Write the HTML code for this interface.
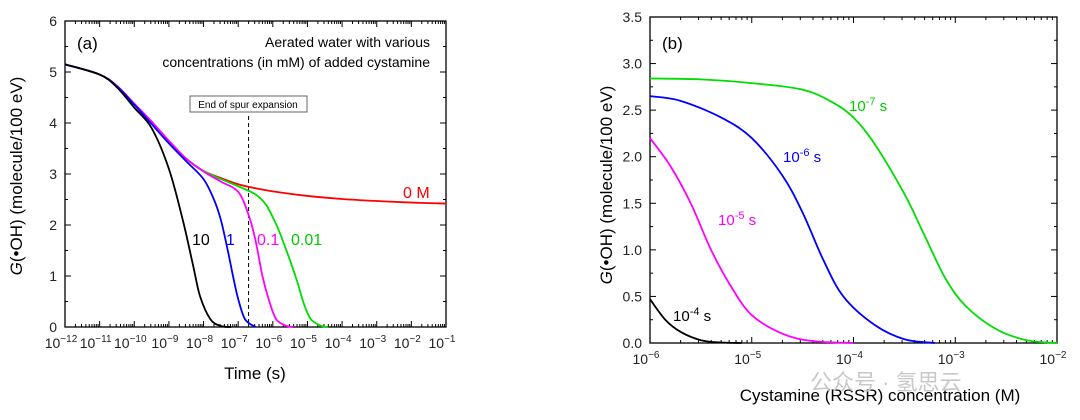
<!DOCTYPE html>
<html><head><meta charset="utf-8"><style>
body{margin:0;background:#fff;}
svg text{font-family:"Liberation Sans","Noto Sans CJK SC",sans-serif;}
</style></head><body>
<svg id="s" width="1080" height="415" xmlns="http://www.w3.org/2000/svg">
<g id="A"></g>
<g id="B"></g>
<text x="810" y="390" font-size="22" fill="#c8c8c8">公众号 · 氢思云</text>
</svg>
<script>
// Chart A data (log10 time, G)
const aRedX=[-12,-11,-10.5,-10,-9.5,-9,-8.5,-8,-7.5,-7,-6.5,-6,-5,-4,-3,-2,-1];
const aRedY=[5.15,4.95,4.72,4.37,4.02,3.65,3.3,3.06,2.92,2.8,2.72,2.66,2.57,2.51,2.47,2.44,2.42];
const aBlackX=[-12,-11,-10.5,-10,-9.5,-9,-8.6,-8.3,-8.1,-7.8,-7.5,-7.2];
const aBlackY=[5.15,4.95,4.7,4.3,3.9,3.1,2.1,1.2,0.6,0.15,0.02,0];
const aBlueX=[-12,-11,-10.5,-10,-9.5,-9,-8.5,-8,-7.7,-7.5,-7.3,-7.15,-7,-6.8,-6.5];
const aBlueY=[5.15,4.95,4.72,4.36,3.98,3.6,3.25,2.9,2.5,2.1,1.5,1.0,0.55,0.15,0];
const aMagX=[-12,-11,-10.5,-10,-9.5,-9,-8.5,-8,-7.5,-7,-6.7,-6.5,-6.3,-6.1,-5.9,-5.6,-5.4];
const aMagY=[5.15,4.95,4.73,4.38,4.03,3.65,3.3,3.05,2.85,2.65,2.2,1.7,1.0,0.5,0.15,0.02,0];
const aGrnX=[-12,-11,-10.5,-10,-9.5,-9,-8.5,-8,-7.5,-7,-6.5,-6.2,-6,-5.8,-5.5,-5.3,-5.1,-4.9,-4.6,-4.4];
const aGrnY=[5.15,4.95,4.72,4.37,4.02,3.65,3.3,3.06,2.9,2.76,2.6,2.4,2.15,1.85,1.3,0.9,0.45,0.15,0.02,0];
const aXTicks=[-12,-11,-10,-9,-8,-7,-6,-5,-4,-3,-2,-1];
const aYTicks=[0,1,2,3,4,5,6];
// Chart B data (log10 concentration, G)
const bGrnX=[-6,-5.5,-5,-4.5,-4.2,-4,-3.8,-3.5,-3.3,-3.1,-2.9,-2.6,-2.3,-2];
const bGrnY=[2.84,2.83,2.79,2.72,2.58,2.42,2.15,1.6,1.15,0.7,0.4,0.15,0.03,0];
const bBlueX=[-6,-5.7,-5.3,-5,-4.7,-4.5,-4.3,-4.1,-3.8,-3.5,-3.2];
const bBlueY=[2.65,2.6,2.42,2.2,1.8,1.4,0.9,0.5,0.2,0.04,0];
const bMagX=[-6,-5.8,-5.6,-5.4,-5.2,-5,-4.7,-4.4,-4];
const bMagY=[2.2,1.9,1.5,1.0,0.6,0.3,0.1,0.02,0];
const bBlkX=[-6,-5.85,-5.7,-5.5,-5.3,-5.1];
const bBlkY=[0.47,0.25,0.12,0.03,0.005,0];
const bXTicks=[-6,-5,-4,-3,-2];
const bYTicks=[0,0.5,1,1.5,2,2.5,3,3.5];

const NS="http://www.w3.org/2000/svg";
function mk(p,t,a,txt){const e=document.createElementNS(NS,t);for(const k in a)e.setAttribute(k,a[k]);if(txt!==undefined)e.textContent=txt;p.appendChild(e);return e;}
function path(xs,ys,sx,sy){const P=xs.map((x,i)=>[sx(x),sy(ys[i])]);let d="M"+P[0][0]+","+P[0][1];
for(let i=0;i<P.length-1;i++){const p0=P[Math.max(0,i-1)],p1=P[i],p2=P[i+1],p3=P[Math.min(P.length-1,i+2)];
const c1=[p1[0]+(p2[0]-p0[0])/6,p1[1]+(p2[1]-p0[1])/6],c2=[p2[0]-(p3[0]-p1[0])/6,p2[1]-(p3[1]-p1[1])/6];
d+=" C"+c1+" "+c2+" "+p2;}return d;}
function axes(g,L,R,T,Bt,xmin,xmax,ymin,ymax,xt,yt,yfmt,minorY){
 const sx=v=>L+(v-xmin)/(xmax-xmin)*(R-L), sy=v=>Bt-(v-ymin)/(ymax-ymin)*(Bt-T);
 const fr=mk(g,'rect',{x:L,y:T,width:R-L,height:Bt-T,fill:'none',stroke:'#000','stroke-width':1.3});
 
 xt.forEach(v=>{const x=sx(v);mk(g,'line',{x1:x,x2:x,y1:Bt,y2:Bt-6,stroke:'#000'});mk(g,'line',{x1:x,x2:x,y1:T,y2:T+6,stroke:'#000'});
  if(v<xmax)for(let k=2;k<10;k++){const xx=sx(v+Math.log10(k));mk(g,'line',{x1:xx,x2:xx,y1:Bt,y2:Bt-3,stroke:'#000'});mk(g,'line',{x1:xx,x2:xx,y1:T,y2:T+3,stroke:'#000'});}
  const t=mk(g,'text',{x:x-4,y:Bt+21,'font-size':14,'text-anchor':'middle',fill:'#222'});
  
  mk(t,'tspan',{},'10');mk(t,'tspan',{dy:-6,'font-size':10},'−'+(-v));});
 yt.forEach((v,i)=>{const y=sy(v);mk(g,'line',{x1:L,x2:L+6,y1:y,y2:y,stroke:'#000'});mk(g,'line',{x1:R,x2:R-6,y1:y,y2:y,stroke:'#000'});
  if(i<yt.length-1){const ym=sy(v+minorY);mk(g,'line',{x1:L,x2:L+3,y1:ym,y2:ym,stroke:'#000'});mk(g,'line',{x1:R,x2:R-3,y1:ym,y2:ym,stroke:'#000'});}
  const t=mk(g,'text',{x:L-8,y:y+5,'font-size':14,'text-anchor':'end',fill:'#222'},yfmt(v));
  });
 return [sx,sy];}
function line(g,xs,ys,sx,sy,c,name){const p=mk(g,'path',{d:path(xs,ys,sx,sy),fill:'none',stroke:c,'stroke-width':1.8});
 }
function lab(g,x,y,c,txt,name,sup,tail){const t=mk(g,'text',{x:x,y:y,'font-size':15,fill:c});
 
 mk(t,'tspan',{},txt);if(sup){mk(t,'tspan',{dy:-6,'font-size':11},sup);mk(t,'tspan',{dy:6},tail);}return t;}

// Chart A
const A=document.getElementById('A');
const [ax,ay]=axes(A,65,446,21,327,-12,-1,0,6,aXTicks,aYTicks,v=>String(v),0.5);
const dl=mk(A,'line',{x1:ax(-6.7),x2:ax(-6.7),y1:116,y2:327,stroke:'#000','stroke-dasharray':'4,3'});

const bx=mk(A,'rect',{x:190,y:96,width:117,height:16,fill:'#fff',stroke:'#666'});

const bt=mk(A,'text',{x:248,y:108,'font-size':10,'text-anchor':'middle'},'End of spur expansion');

line(A,aRedX,aRedY,ax,ay,'#ff0000','series-0M');
line(A,aGrnX,aGrnY,ax,ay,'#00dd00','series-0.01');
line(A,aMagX,aMagY,ax,ay,'#ff00ff','series-0.1');
line(A,aBlueX,aBlueY,ax,ay,'#0000ff','series-1');
line(A,aBlackX,aBlackY,ax,ay,'#000000','series-10');
lab(A,77,49,'#000','(a)','panel-a-label').setAttribute('font-size','17');
let t1=mk(A,'text',{x:430,y:47,'font-size':14,'text-anchor':'end'},'Aerated water with various');
let t2=mk(A,'text',{x:430,y:67,'font-size':14,'text-anchor':'end'},'concentrations (in mM) of added cystamine');
lab(A,403,198,'#ff0000','0 M','label-0M').setAttribute('font-size','16');
lab(A,192,245,'#000','10','label-10').setAttribute('font-size','16');
lab(A,226,245,'#0000ff','1','label-1').setAttribute('font-size','16');
lab(A,257,245,'#ff00ff','0.1','label-0.1').setAttribute('font-size','16');
lab(A,291,245,'#00cc00','0.01','label-0.01').setAttribute('font-size','16');
let xa=mk(A,'text',{x:255,y:379,'font-size':17,'text-anchor':'middle'},'Time (s)');
let ya=mk(A,'text',{x:0,y:0,'font-size':17,'text-anchor':'middle',transform:'translate(22,176) rotate(-90)'});
mk(ya,'tspan',{'font-style':'italic'},'G');mk(ya,'tspan',{},'(•OH) (molecule/100 eV)');

// Chart B
const B=document.getElementById('B');
const [bx2,by]=axes(B,650,1057,17,343,-6,-2,0,3.5,bXTicks,bYTicks,v=>v.toFixed(1),0.25);
line(B,bGrnX,bGrnY,bx2,by,'#00dd00','series-1e-7s');
line(B,bBlueX,bBlueY,bx2,by,'#0000ff','series-1e-6s');
line(B,bMagX,bMagY,bx2,by,'#ff00ff','series-1e-5s');
line(B,bBlkX,bBlkY,bx2,by,'#000000','series-1e-4s');
lab(B,662,49,'#000','(b)','panel-b-label').setAttribute('font-size','17');
lab(B,849,111,'#00cc00','10','label-1e-7s','-7',' s');
lab(B,783,162,'#0000ff','10','label-1e-6s','-6',' s');
lab(B,718,225,'#ff00ff','10','label-1e-5s','-5',' s');
lab(B,673,321,'#000','10','label-1e-4s','-4',' s');
let xb=mk(B,'text',{x:880,y:401,'font-size':17,'text-anchor':'middle'},'Cystamine (RSSR) concentration (M)');
let yb=mk(B,'text',{x:0,y:0,'font-size':17,'text-anchor':'middle',transform:'translate(612,185) rotate(-90)'});
mk(yb,'tspan',{'font-style':'italic'},'G');mk(yb,'tspan',{},'(•OH) (molecule/100 eV)');
</script>
</body></html>
